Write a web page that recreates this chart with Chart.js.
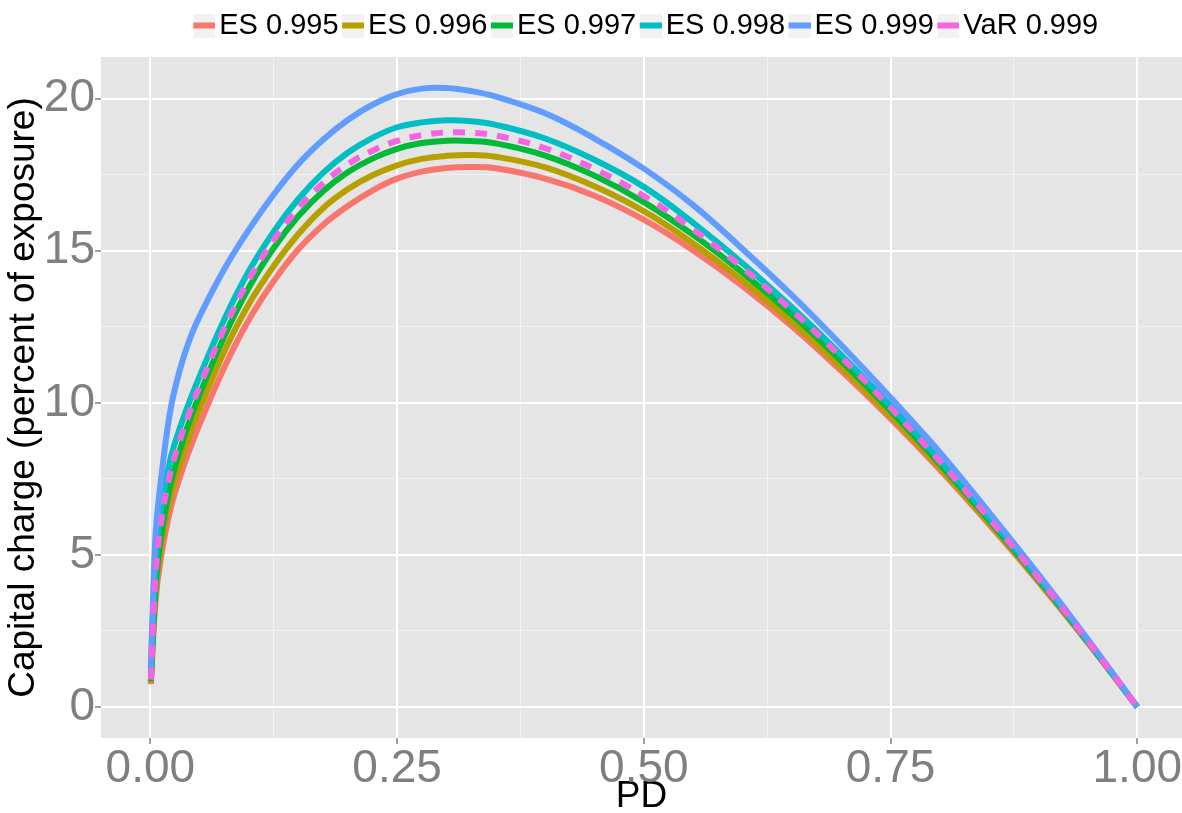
<!DOCTYPE html>
<html><head><meta charset="utf-8">
<script src="https://cdn.jsdelivr.net/npm/chart.js@4.4.1/dist/chart.umd.min.js"></script>
<style>html,body{margin:0;padding:0;background:#fff;}#wrap{width:1182px;height:813px;}</style>
</head><body><div id="wrap"><canvas id="c" width="1182" height="813"></canvas></div>
<script>
const pd = [0.0005,0.005,0.01,0.02,0.03,0.04,0.05,0.075,0.1,0.125,0.15,0.175,0.2,0.225,0.25,0.275,0.3,0.325,0.35,0.4,0.45,0.5,0.55,0.6,0.65,0.7,0.75,0.8,0.85,0.9,0.95,1.0];
const es995 = [0.75,3.37,4.76,6.46,7.56,8.48,9.3,11.17,12.74,14.0,15.05,15.85,16.47,16.98,17.37,17.6,17.72,17.75,17.71,17.37,16.81,16.02,15.01,13.84,12.52,11.05,9.48,7.8,6.0,4.11,2.11,0];
const es996 = [0.8,3.62,5.11,6.86,7.98,8.96,9.8,11.7,13.26,14.5,15.55,16.4,17.02,17.48,17.81,18.02,18.12,18.15,18.09,17.74,17.12,16.3,15.24,14.02,12.66,11.17,9.57,7.87,6.05,4.14,2.12,0];
const es997 = [0.85,3.77,5.41,7.26,8.45,9.43,10.28,12.19,13.8,15.09,16.14,16.96,17.58,18.03,18.35,18.54,18.62,18.61,18.53,18.13,17.47,16.6,15.52,14.28,12.9,11.38,9.74,7.99,6.13,4.19,2.14,0];
const es998 = [1.15,4.67,6.36,8.11,9.18,10.07,10.88,12.75,14.34,15.63,16.7,17.56,18.22,18.71,19.06,19.22,19.29,19.26,19.14,18.69,17.99,17.1,15.92,14.59,13.14,11.58,9.9,8.12,6.22,4.25,2.17,0];
const es999 = [1.3,5.5,7.25,9.7,11.1,12.1,12.85,14.4,15.7,16.85,17.85,18.65,19.3,19.8,20.15,20.33,20.35,20.25,20.07,19.52,18.69,17.7,16.5,15.06,13.54,11.9,10.17,8.37,6.39,4.35,2.22,0];
const var999 = [0.9,4.17,5.86,7.66,8.78,9.71,10.55,12.45,14.06,15.35,16.4,17.22,17.84,18.29,18.61,18.8,18.89,18.88,18.79,18.37,17.69,16.8,15.7,14.44,13.04,11.5,9.84,8.07,6.19,4.23,2.16,0];

const seriesNames = ['ES 0.995','ES 0.996','ES 0.997','ES 0.998','ES 0.999','VaR 0.999'];
const seriesValues = [es995, es996, es997, es998, es999, var999];
const seriesColors = ['#F8766D','#B79F00','#00BA38','#00BFC4','#619CFF','#F564E3'];
const seriesDashed = [false,false,false,false,false,true];

const xMajorTicks = [0, 0.25, 0.5, 0.75, 1];
const xMinorTicks = [0.125, 0.375, 0.625, 0.875];
const yMajorTicks = [0, 5, 10, 15, 20];
const yMinorTicks = [2.5, 7.5, 12.5, 17.5];

const FONT = "'Liberation Sans', Arial, Helvetica, sans-serif";

function makeSwatch(color) {
  const c = document.createElement('canvas');
  c.width = 25; c.height = 24;
  const g = c.getContext('2d');
  g.fillStyle = '#F2F2F2';
  g.fillRect(3, 0, 22, 24);
  g.fillStyle = color;
  g.fillRect(3, 9, 22, 6);
  return c;
}
const swatches = seriesColors.map(makeSwatch);

const datasets = seriesNames.map((name, i) => ({
  label: name,
  data: pd.map((x, j) => ({x: x, y: seriesValues[i][j]})),
  borderColor: seriesColors[i],
  backgroundColor: seriesColors[i],
  borderWidth: 6,
  borderDash: seriesDashed[i] ? [12, 10] : [],
  pointRadius: 0,
  pointHoverRadius: 0,
  fill: false,
  tension: 0.4,
  order: seriesNames.length - 1 - i
}));

function isIn(arr, v) { return arr.some(a => Math.abs(a - v) < 1e-9); }

const panelBg = {
  id: 'panelBg',
  beforeDraw(chart) {
    const {ctx, chartArea: a} = chart;
    ctx.save();
    ctx.fillStyle = '#FFFFFF';
    ctx.fillRect(0, 0, chart.width, chart.height);
    ctx.fillStyle = '#E5E5E5';
    ctx.fillRect(a.left, a.top, a.right - a.left, a.bottom - a.top);
    ctx.restore();
  }
};

const legendShift = {
  id: 'legendShift',
  afterLayout(chart) {
    if (chart.legend) { chart.legend.left += 8; chart.legend.right += 8; }
  }
};

function gridOpts() {
  return {
    color: c => (c.tick && c.tick.major) ? '#FFFFFF' : '#F2F2F2',
    lineWidth: c => (c.tick && c.tick.major) ? 2 : 1,
    tickColor: c => (c.tick && c.tick.major) ? '#7F7F7F' : 'rgba(0,0,0,0)',
    tickWidth: 1.5,
    tickLength: 6,
    drawOnChartArea: true,
    drawTicks: true
  };
}

new Chart(document.getElementById('c'), {
  type: 'line',
  data: { datasets },
  plugins: [panelBg, legendShift],
  options: {
    responsive: false,
    animation: false,
    devicePixelRatio: 1,
    layout: { padding: { top: 0, left: 0, right: 0, bottom: 0 } },
    plugins: {
      tooltip: { enabled: false },
      title: { display: false },
      subtitle: { display: true, text: '', weight: 500, padding: 0, font: { size: 7, lineHeight: 1 } },
      legend: {
        display: true,
        position: 'top',
        align: 'center',
        fullSize: false,
        labels: {
          usePointStyle: true,
          pointStyleWidth: 4,
          padding: 11,
          color: '#000000',
          font: { family: FONT, size: 29 },
          generateLabels: chart => chart.data.datasets.map((ds, i) => ({
            text: ds.label,
            pointStyle: swatches[i],
            fillStyle: 'rgba(0,0,0,0)',
            strokeStyle: 'rgba(0,0,0,0)',
            lineWidth: 0,
            hidden: false,
            datasetIndex: i,
            fontColor: '#000000'
          }))
        }
      }
    },
    scales: {
      x: {
        type: 'linear',
        min: -0.05,
        max: 1.0453,
        border: { display: false },
        grid: gridOpts(),
        afterBuildTicks: s => {
          s.ticks = xMajorTicks.concat(xMinorTicks).sort((a, b) => a - b)
            .map(v => ({ value: v, major: isIn(xMajorTicks, v) }));
        },
        afterFit: s => { s.height = 75; },
        ticks: {
          autoSkip: false,
          maxRotation: 0,
          padding: -2,
          color: '#7F7F7F',
          font: { family: FONT, size: 46 },
          callback: v => isIn(xMajorTicks, v) ? v.toFixed(2) : ''
        },
        title: {
          display: true,
          text: 'PD',
          color: '#000000',
          font: { family: FONT, size: 37, lineHeight: 0.9 },
          padding: { top: 0, bottom: 0 }
        }
      },
      y: {
        type: 'linear',
        min: -1.02,
        max: 21.37,
        border: { display: false },
        grid: gridOpts(),
        afterBuildTicks: s => {
          s.ticks = yMajorTicks.concat(yMinorTicks).sort((a, b) => a - b)
            .map(v => ({ value: v, major: isIn(yMajorTicks, v) }));
        },
        afterFit: s => { s.width = 101; },
        ticks: {
          autoSkip: false,
          padding: 0,
          color: '#7F7F7F',
          font: { family: FONT, size: 46 },
          callback: v => isIn(yMajorTicks, v) ? String(v) : ''
        },
        title: {
          display: true,
          text: 'Capital charge (percent of exposure)',
          color: '#000000',
          font: { family: FONT, size: 37, lineHeight: 1 },
          padding: { top: 5, bottom: 0 }
        }
      }
    }
  }
});
</script>
</body></html>
